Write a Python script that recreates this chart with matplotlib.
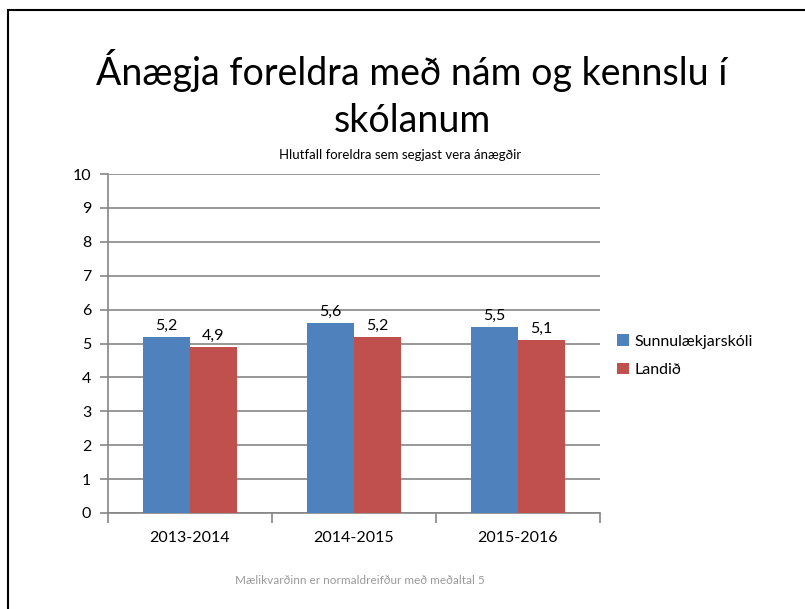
import matplotlib
matplotlib.use("Agg")
import matplotlib.pyplot as plt
from matplotlib.patches import Rectangle
import numpy as np

categories = ["2013-2014", "2014-2015", "2015-2016"]
school = [5.2, 5.6, 5.5]
national = [4.9, 5.2, 5.1]
series_names = ["Sunnulækjarskóli", "Landið"]
yticks = list(range(0, 11))

plt.rcParams['font.family'] = ['Lato', 'DejaVu Sans']

fig = plt.figure(figsize=(8.05, 6.09), dpi=100)
fig.patch.set_facecolor('white')

# outer border (only top/left visible)
fig.add_artist(Rectangle((8/805, -0.1), 1.2, 1 - 10/609 + 0.1, transform=fig.transFigure,
                         fill=False, edgecolor='black', linewidth=1.5))

ax = fig.add_axes([108/805, 1 - 513/609, (600-108)/805, (513-174)/609])
x = np.arange(len(categories))
w = 0.287
b1 = ax.bar(x - w/2, school, width=w, color='#4F81BD', label=series_names[0], zorder=3)
b2 = ax.bar(x + w/2, national, width=w, color='#C0504D', label=series_names[1], zorder=3)

for bars, vals in ((b1, school), (b2, national)):
    for r, v in zip(bars, vals):
        ax.text(r.get_x() + r.get_width()/2, v + 0.12, f"{v:.1f}".replace('.', ','),
                ha='center', va='bottom', fontsize=11.5, color='black', zorder=4)

ax.set_xlim(-0.5, 2.5)
ax.set_ylim(0, 10)
ax.set_yticks(yticks)
ax.set_yticklabels([str(t) for t in yticks], fontsize=11.5)
ax.yaxis.grid(True, color='#868686', linewidth=1.2, zorder=0)
ax.set_axisbelow(True)
for s in ['top', 'right']:
    ax.spines[s].set_visible(False)
ax.spines['left'].set_color('#868686')
ax.spines['bottom'].set_color('#868686')
ax.spines['left'].set_linewidth(1.2)
ax.spines['bottom'].set_linewidth(1.2)
ax.tick_params(axis='y', length=6, color='#868686', width=1.2, pad=6)
ax.set_xticks([-0.5, 0.5, 1.5, 2.5])
ax.set_xticklabels([])
ax.tick_params(axis='x', length=7, color='#868686', width=1.2)
ax.set_xticks(x, minor=True)
ax.set_xticklabels(categories, minor=True, fontsize=11.5)
ax.tick_params(axis='x', which='minor', length=0, pad=13)

leg = fig.legend(handles=[b1, b2], labels=series_names, loc='upper left',
                 bbox_to_anchor=(603/805, 1 - 320/609), frameon=False, fontsize=11.5,
                 handlelength=0.7, handleheight=0.7, handletextpad=0.4, labelspacing=0.9)

fig.text(412/805, 1 - 85/609, "Ánægja foreldra með nám og kennslu í", ha='center', va='baseline',
         fontsize=27, color='black')
fig.text(412/805, 1 - 132/609, "skólanum", ha='center', va='baseline', fontsize=27, color='black')
fig.text(400/805, 1 - 159/609, "Hlutfall foreldra sem segjast vera ánægðir", ha='center', va='baseline',
         fontsize=9.5, color='black')
fig.text(360/805, 1 - 580/609, "Mælikvarðinn er normaldreifður með meðaltal 5", ha='center', va='center',
         fontsize=8.5, color='#9a9a9a')

fig.savefig("out.png", dpi=100)
